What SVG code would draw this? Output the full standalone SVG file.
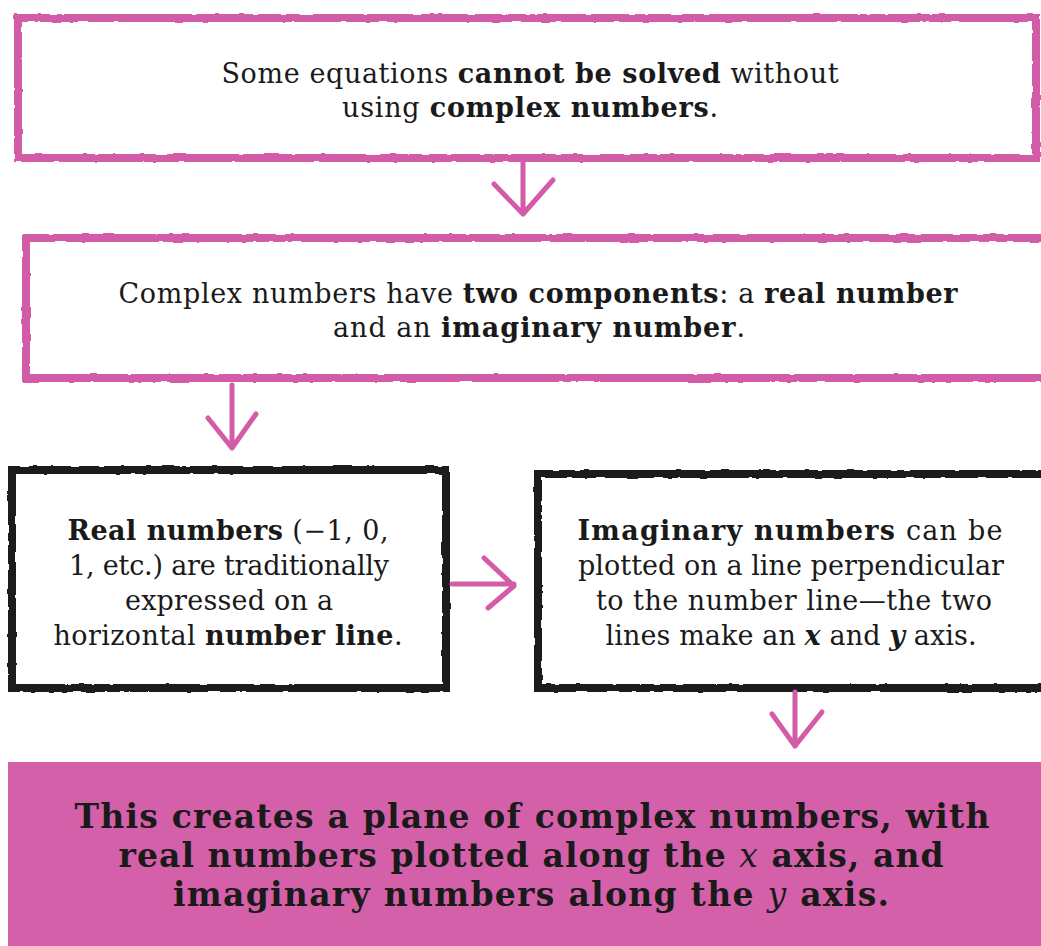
<svg xmlns="http://www.w3.org/2000/svg" width="1041" height="946" viewBox="0 0 1041 946">
<defs>
<filter id="rough" x="-5%" y="-5%" width="110%" height="110%">
<feTurbulence type="fractalNoise" baseFrequency="0.08" numOctaves="2" seed="3" result="n"/>
<feDisplacementMap in="SourceGraphic" in2="n" scale="3" xChannelSelector="R" yChannelSelector="G"/>
</filter>
<style>
.pbox{fill:#fff;stroke:#d35ba8;stroke-width:8;filter:url(#rough)}
.kbox{fill:#fff;stroke:#1a1a1a;stroke-width:8;filter:url(#rough)}
.arr{fill:none;stroke:#d35ba8;stroke-width:5;stroke-linecap:round;stroke-linejoin:round}
.t{font-family:"DejaVu Serif",serif;font-size:27px;fill:#1a1a1a;text-anchor:middle}
.tb{font-family:"DejaVu Serif",serif;font-size:27px;fill:#1a1a1a;text-anchor:middle}
.b{font-weight:bold}
.i{font-style:italic}
.big{font-family:"DejaVu Serif",serif;font-size:33px;font-weight:bold;fill:#1a1a1a;text-anchor:middle}
</style>
</defs>
<rect width="1041" height="946" fill="#fff"/>
<g id="node-equations">
<rect class="pbox" x="18" y="18" width="1018" height="140"/>
<text class="t" x="530" y="83" textLength="617" lengthAdjust="spacing">Some equations <tspan class="b">cannot be solved</tspan> without</text>
<text class="t" x="530" y="117" textLength="376" lengthAdjust="spacing">using <tspan class="b">complex numbers</tspan>.</text>
</g>
<g id="node-components">
<rect class="pbox" x="26" y="238" width="1030" height="140"/>
<text class="t" x="538" y="303" textLength="839" lengthAdjust="spacing">Complex numbers have <tspan class="b">two components</tspan>: a <tspan class="b">real number</tspan></text>
<text class="t" x="539" y="337" textLength="412" lengthAdjust="spacing">and an <tspan class="b">imaginary number</tspan>.</text>
</g>
<g id="node-real">
<rect class="kbox" x="12" y="470" width="434" height="218"/>
<text class="tb" x="228" y="540" textLength="321" lengthAdjust="spacing"><tspan class="b">Real numbers</tspan> (−1, 0,</text>
<text class="tb" x="229" y="575" textLength="320" lengthAdjust="spacing">1, etc.) are traditionally</text>
<text class="tb" x="229" y="610" textLength="208" lengthAdjust="spacing">expressed on a</text>
<text class="tb" x="228" y="645" textLength="349" lengthAdjust="spacing">horizontal <tspan class="b">number line</tspan>.</text>
</g>
<g id="node-imaginary">
<rect class="kbox" x="538" y="474" width="520" height="214"/>
<text class="tb" x="790" y="540" textLength="425" lengthAdjust="spacing"><tspan class="b">Imaginary numbers</tspan> can be</text>
<text class="tb" x="791" y="575" textLength="426" lengthAdjust="spacing">plotted on a line perpendicular</text>
<text class="tb" x="794" y="610" textLength="396" lengthAdjust="spacing">to the number line—the two</text>
<text class="tb" x="791" y="645" textLength="371" lengthAdjust="spacing">lines make an <tspan class="b i">x</tspan> and <tspan class="b i">y</tspan> axis.</text>
</g>
<g id="node-plane">
<rect x="8" y="762" width="1033" height="184" fill="#d460a9"/>
<text class="big" x="532" y="828" textLength="915" lengthAdjust="spacing">This creates a plane of complex numbers, with</text>
<text class="big" x="531" y="867" textLength="825" lengthAdjust="spacing">real numbers plotted along the <tspan font-weight="normal" font-style="italic">x</tspan> axis, and</text>
<text class="big" x="531" y="906" textLength="716" lengthAdjust="spacing">imaginary numbers along the <tspan font-weight="normal" font-style="italic">y</tspan> axis.</text>
</g>
<g id="connectors">
<path class="arr" d="M523 163 V214 M494 184 L523 214 L553 180"/>
<path class="arr" d="M232 385 V448 M208 418 L232 448 L256 414"/>
<path class="arr" d="M452 584 H514 M484 558 L514 586 L488 608"/>
<path class="arr" d="M795 692 V746 M772 714 L795 746 L822 712"/>
</g>
</svg>
